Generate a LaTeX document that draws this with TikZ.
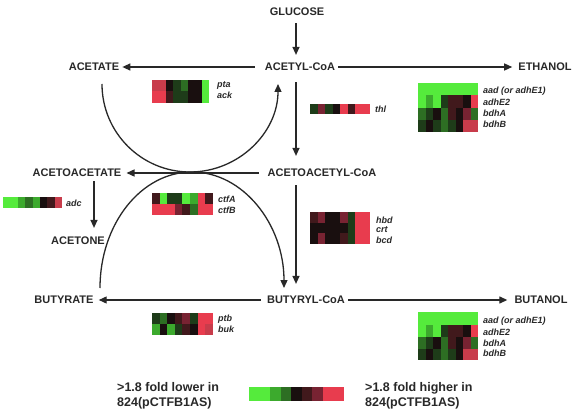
\documentclass[tikz,border=0pt]{standalone}
\usepackage{fontspec}
\setmainfont{Liberation Sans}
\usetikzlibrary{arrows.meta,calc}
\definecolor{G1}{RGB}{85,235,60}
\definecolor{G2}{RGB}{60,170,45}
\definecolor{G3}{RGB}{45,110,35}
\definecolor{G4}{RGB}{30,60,25}
\definecolor{K}{RGB}{25,15,15}
\definecolor{M1}{RGB}{65,25,28}
\definecolor{M2}{RGB}{120,35,50}
\definecolor{R3}{RGB}{200,60,75}
\definecolor{R}{RGB}{232,60,78}
\definecolor{ink}{RGB}{40,40,40}
\newcommand{\heatrow}[5]{\foreach \c [count=\i from 0] in {#5}{\fill[\c] ({#1+\i*#3},#2) rectangle ++(#3,#4);}}
\tikzset{
  met/.style={font=\bfseries\fontsize{11}{13}\selectfont, text=ink, inner sep=2pt},
  gene/.style={font=\bfseries\itshape\fontsize{9}{10}\selectfont, anchor=west, inner sep=0pt, text=ink},
  leg/.style={font=\bfseries\fontsize{12.5}{15}\selectfont, anchor=west, align=left, inner sep=0pt, text=ink},
  arr/.style={line width=1.3pt, draw=ink, -{Triangle[length=8pt,width=7pt]}},
}
\begin{document}
\begin{tikzpicture}[x=1pt,y=-1pt]
\useasboundingbox (0,0) rectangle (574,412);
\fill[white] (0,0) rectangle (574,412);
\coordinate (col) at (296,0);
\coordinate (col2) at (94,0);
% metabolites
\node[met] (glucose) at (297,12) {GLUCOSE};
\node[met] (acetylcoa) at (300,67) {ACETYL-CoA};
\node[met] (acetate) at (94,67) {ACETATE};
\node[met] (ethanol) at (545,67) {ETHANOL};
\node[met] (acetoacetate) at (77,173) {ACETOACETATE};
\node[met] (acetoacetylcoa) at (322,173) {ACETOACETYL-CoA};
\node[met] (acetone) at (78,241) {ACETONE};
\node[met] (butyrate) at (64,300) {BUTYRATE};
\node[met] (butyrylcoa) at (306,300) {BUTYRYL-CoA};
\node[met] (butanol) at (541,300) {BUTANOL};
% straight connectors
\draw[arr, shorten <=5pt, shorten >=6pt] (glucose.south -| col) -- (acetylcoa.north -| col);
\draw[arr, shorten <=8pt, shorten >=1pt] (acetylcoa) -- (acetate);
\draw[arr, shorten <=1pt, shorten >=4pt] (acetylcoa) -- (ethanol);
\draw[arr, shorten <=9pt, shorten >=11pt] (acetylcoa.south -| col) -- (acetoacetylcoa.north -| col);
\draw[arr, shorten <=7pt, shorten >=3pt] (acetoacetylcoa) -- (acetoacetate);
\draw[arr, shorten <=2pt, shorten >=7pt] (acetoacetate.south -| col2) -- (acetone.north -| col2);
\draw[arr, shorten <=6pt, shorten >=10pt] (acetoacetylcoa.south -| col) -- (butyrylcoa.north -| col);
\draw[arr, shorten <=4pt, shorten >=3pt] (butyrylcoa) -- (butyrate);
\draw[arr, shorten <=1pt, shorten >=5pt] (butyrylcoa) -- (butanol);
% arcs
\draw[arr] (102,84) arc[start angle=180, end angle=0, radius=88];
\draw[arr] (100,288) arc[start angle=180, end angle=360, x radius=92, y radius=116];
% heatmaps
\heatrow{152}{80}{7.125}{11.5}{R3,R3,K,G4,G3,K,K,G1}
\heatrow{152}{91.5}{7.125}{11.5}{R,R,M1,G4,G4,K,K,G1}
\node[gene] (pta) at (217,85) {pta};
\node[gene] (ack) at (217,95) {ack};
\heatrow{310}{104}{7.5}{10}{G4,M2,G4,K,R,M1,R,R}
\node[gene] (thl) at (375,109) {thl};
\heatrow{418}{83}{7.5}{12.5}{G1,G1,G1,G1,G1,G1,G1,G1}
\heatrow{418}{95.5}{7.5}{12.5}{G1,G2,G1,G4,M1,M1,K,R}
\heatrow{418}{108}{7.5}{12}{G3,G4,K,G3,M1,K,M2,G3}
\heatrow{418}{120}{7.5}{12}{G4,K,G4,G3,G4,K,R3,R3}
\node[gene] (aad1) at (483,91) {aad (or adhE1)};
\node[gene] (adh1) at (483,102) {adhE2};
\node[gene] (bdhA1) at (483,113) {bdhA};
\node[gene] (bdhB1) at (483,124) {bdhB};
\heatrow{3}{197}{7.4}{11}{G1,G1,G2,G3,G2,K,M1,R3}
\node[gene] (adc) at (66,203) {adc};
\heatrow{152}{193}{7.6}{10.5}{M1,G1,G4,G4,G1,G2,R,M1}
\heatrow{152}{203.5}{7.6}{11.5}{R,R,R,M2,M1,G3,R,R}
\node[gene] (ctfA) at (218,199) {ctfA};
\node[gene] (ctfB) at (218,210) {ctfB};
\heatrow{310}{212}{7.5}{10.7}{M1,M2,K,K,M2,G4,R,R}
\heatrow{310}{222.7}{7.5}{10.7}{K,K,K,K,K,G4,R,R}
\heatrow{310}{233.4}{7.5}{10.6}{K,M2,K,K,M1,G4,R,R}
\node[gene] (hbd) at (376,220) {hbd};
\node[gene] (crt) at (376,230) {crt};
\node[gene] (bcd) at (376,240) {bcd};
\heatrow{152}{313}{7.6}{11}{G4,G3,K,M1,M2,G4,R,R}
\heatrow{152}{324}{7.6}{11}{G2,K,G2,G4,M1,K,R,R3}
\node[gene] (ptb) at (218,319) {ptb};
\node[gene] (buk) at (218,329) {buk};
\heatrow{418}{312}{7.5}{12.5}{G1,G1,G1,G1,G1,G1,G1,G1}
\heatrow{418}{324.5}{7.5}{12.5}{G1,G2,G1,G4,M1,M1,K,R}
\heatrow{418}{337}{7.5}{12}{G3,G4,K,G3,M1,K,M2,G3}
\heatrow{418}{349}{7.5}{11}{G4,K,G4,G3,G4,K,R3,R3}
\node[gene] (aad2) at (483,321) {aad (or adhE1)};
\node[gene] (adh2) at (483,332) {adhE2};
\node[gene] (bdhA2) at (483,343) {bdhA};
\node[gene] (bdhB2) at (483,353) {bdhB};
% legend
\heatrow{249}{387}{10.55}{14}{G1,G1,G2,G3,K,M1,M2,R,R}
\node[leg] (lower) at (117,396) {>1.8 fold lower in\\824(pCTFB1AS)};
\node[leg] (higher) at (365,396) {>1.8 fold higher in\\824(pCTFB1AS)};
\end{tikzpicture}
\end{document}
